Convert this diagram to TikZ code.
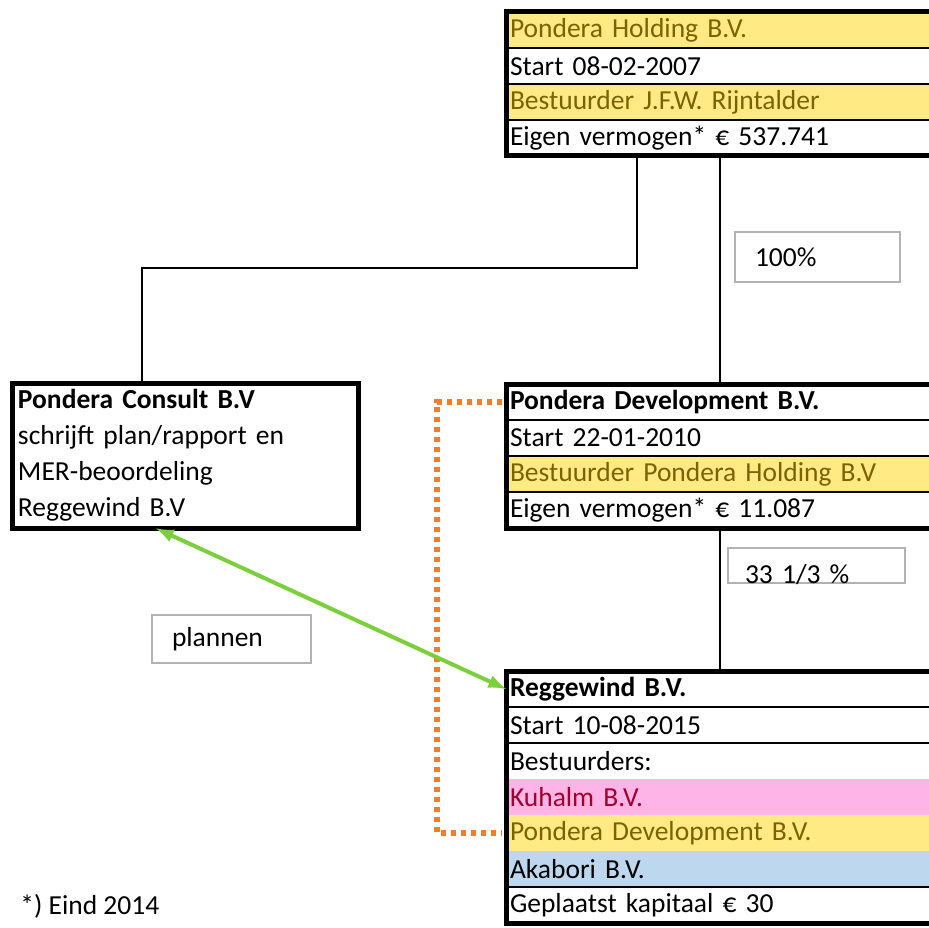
\documentclass[tikz,border=0pt]{standalone}
\usepackage{fontspec}
\setmainfont{Carlito}
\usetikzlibrary{shapes,arrows,positioning}
\definecolor{neutralfill}{HTML}{FFEA84}
\definecolor{neutraltext}{HTML}{7A6200}
\definecolor{badfill}{HTML}{FFB4E8}
\definecolor{badtext}{HTML}{A0002A}
\definecolor{coolfill}{HTML}{BDD8EE}
\definecolor{plangreen}{HTML}{7CCF3C}
\definecolor{dotorange}{HTML}{F07E2E}
\tikzstyle{row} = [rectangle, draw, line width=1.2pt, outer sep=0pt,
    text width=213pt, inner xsep=2pt, inner ysep=0pt, minimum height=18pt, align=left]
\tikzstyle{plainrow} = [rectangle, outer sep=0pt,
    text width=213pt, inner xsep=2pt, inner ysep=0pt, minimum height=18pt, align=left]
\tikzstyle{neutral} = [fill=neutralfill, text=neutraltext]
\tikzstyle{frame} = [draw, line width=2.5pt]
\tikzstyle{tag} = [rectangle, draw=black!30, line width=0.6pt, inner ysep=0pt, align=left]
\tikzstyle{link} = [draw, line width=1pt]

\begin{document}
\begin{tikzpicture}[x=1pt, y=1pt, font=\fontsize{13.75}{18}\selectfont]
    \useasboundingbox (0,0) rectangle (464.5,463.5);
    \clip (0,0) rectangle (464.5,463.5);

    % holding
    \node[row, neutral, anchor=north west] (hold1) at (253,457.5) {Pondera Holding B.V.};
    \node[row, below=0pt of hold1] (hold2) {Start 08-02-2007};
    \node[row, neutral, below=0pt of hold2] (hold3) {Bestuurder J.F.W. Rijntalder};
    \node[row, below=0pt of hold3] (hold4) {Eigen vermogen* € 537.741};
    \path[frame] (hold1.north west) rectangle (hold4.south east);

    % development
    \node[row, anchor=north west] (dev1) at (253,271.5) {\textbf{Pondera Development B.V.}};
    \node[row, below=0pt of dev1] (dev2) {Start 22-01-2010};
    \node[row, neutral, below=0pt of dev2] (dev3) {Bestuurder Pondera Holding B.V};
    \node[row, below=0pt of dev3] (dev4) {Eigen vermogen* € 11.087};
    \path[frame] (dev1.north west) rectangle (dev4.south east);

    % reggewind
    \node[row, anchor=north west] (regg1) at (253,128) {\textbf{Reggewind B.V.}};
    \node[row, below=0pt of regg1] (regg2) {Start 10-08-2015};
    \node[plainrow, below=0pt of regg2] (regg3) {Bestuurders:};
    \node[plainrow, fill=badfill, text=badtext, below=0pt of regg3] (regg4) {Kuhalm B.V.};
    \node[plainrow, neutral, below=0pt of regg4] (regg5) {Pondera Development B.V.};
    \node[plainrow, fill=coolfill, below=0pt of regg5] (regg6) {Akabori B.V.};
    \node[row, below=0pt of regg6] (regg7) {Geplaatst kapitaal € 30};
    \path[frame] (regg1.north west) rectangle (regg7.south east);

    % consult
    \node[rectangle, frame, anchor=north west, outer sep=0pt, text width=167pt, inner xsep=3pt,
        minimum height=72pt, align=left] (consult) at (6,272)
        {\textbf{Pondera Consult B.V}\\schrijft plan/rapport en\\MER-beoordeling\\Reggewind B.V};

    % labels
    \node[tag, text width=62.5pt, inner xsep=10pt, minimum height=25pt] (pct100) at (408.75,335) {100\%};
    \node[tag, text width=71.5pt, inner xsep=8.5pt, minimum height=17.5pt] (pct33) at (408.25,180.75)
        {\raisebox{-9pt}[0pt][0pt]{33 1/3 \%}};
    \node[tag, text width=59.5pt, inner xsep=10pt, minimum height=24pt] (plannen) at (115.75,144) {plannen};
    \node[anchor=west, inner sep=0pt] (note) at (10,10.5) {*) Eind 2014};

    \coordinate (split) at (318.5,329.5);
    \coordinate (cdrop) at (71,329.5);
    \coordinate (stem) at (360,0);
    \coordinate (loopx) at (218.5,0);

    \path[link] (hold4.south -| split) -- (split) -- (cdrop) -- (cdrop |- consult.north);
    \path[link] (hold4.south -| stem) -- (dev1.north -| stem);
    \path[link] (dev4.south -| stem) -- (regg1.north -| stem);

    \path[draw, dotorange, line width=2.6pt, dash pattern=on 2.6pt off 2.4pt, shorten <=2pt, shorten >=2pt]
        (dev1.west) -- (dev1.west -| loopx) -- (regg5.west -| loopx) -- (regg5.west);

    \path[draw, plangreen, line width=2pt, >=latex, <->] ([xshift=-14.5pt]consult.south) -- (regg1.west);
\end{tikzpicture}
\end{document}
